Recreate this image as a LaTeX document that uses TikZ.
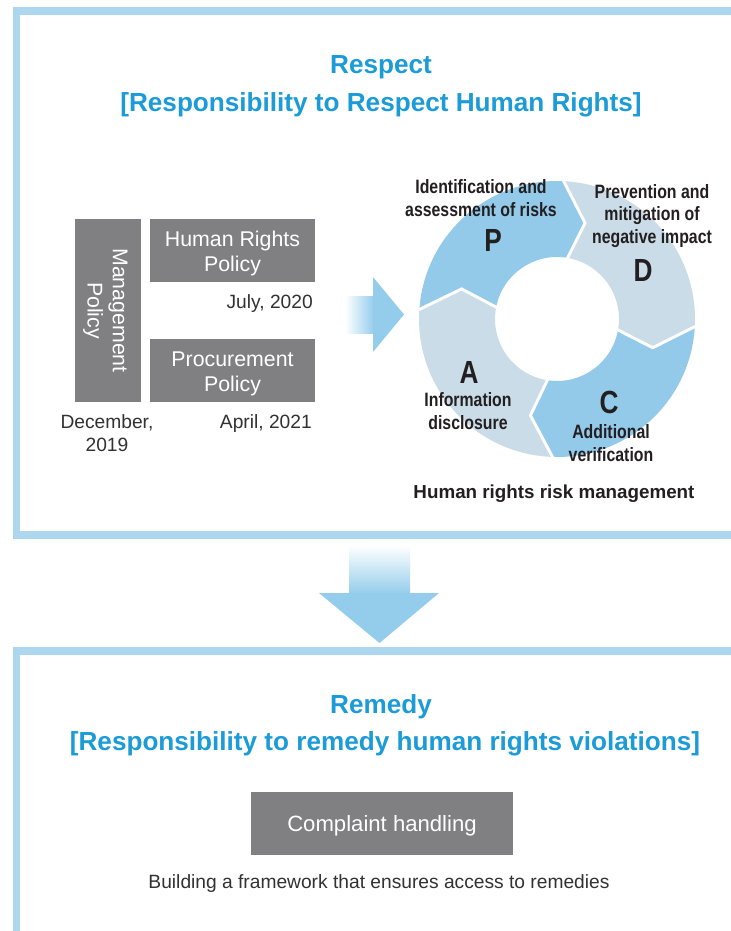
\documentclass[tikz,border=0pt]{standalone}
\usepackage{fontspec}
\setmainfont{Liberation Sans}
\newfontfamily\condfont[FakeStretch=0.82]{Liberation Sans}
\usetikzlibrary{calc}
\definecolor{titleblue}{RGB}{27,155,215}
\definecolor{frameblue}{RGB}{172,215,238}
\definecolor{segblue}{RGB}{147,202,234}
\definecolor{seggray}{RGB}{202,220,231}
\definecolor{boxgray}{RGB}{128,128,131}
\definecolor{arrowblue}{RGB}{148,205,235}
\definecolor{textdark}{RGB}{35,31,32}
\definecolor{textgray}{RGB}{50,50,50}
\begin{document}
\begin{tikzpicture}[x=0.75pt,y=0.75pt,
 frame/.style={draw=frameblue, line width=5.6pt, line join=miter},
 title/.style={text=titleblue, font=\bfseries\fontsize{19.6}{23}\selectfont, inner sep=0},
 graybox/.style={fill=boxgray, inner sep=0},
 boxtext/.style={text=white, font=\fontsize{16}{19}\selectfont, align=center, inner sep=0},
 datelabel/.style={text=textgray, font=\fontsize{14.4}{17.5}\selectfont, inner sep=0, align=center},
 cyclabel/.style={text=textdark, font=\condfont\bfseries\fontsize{14.5}{16.8}\selectfont, align=center, inner sep=0},
 cycletter/.style={text=textdark, font=\condfont\bfseries\fontsize{24}{24}\selectfont, inner sep=0},
 gap/.style={white, line width=2.2pt, line join=miter},
]
\useasboundingbox (0,0) rectangle (731,-931);
\fill[white] (0,0) rectangle (731,-931);

% frames
\draw[frame] (731,-11) -- (16.5,-11) -- (16.5,-535) -- (731,-535);
\draw[frame] (731,-651) -- (16.5,-651) -- (16.5,-931);

% titles
\node[title, anchor=base] (t1) at (381,-74) {Respect};
\node[title, anchor=base] (t2) at (381,-111) {[Responsibility to Respect Human Rights]};
\node[title, anchor=base] (t3) at (381,-713) {Remedy};
\node[title, anchor=base] (t4) at (385,-750) {[Responsibility to remedy human rights violations]};

% policy boxes
\node[graybox, minimum width=49.5pt, minimum height=137.25pt] (mgmt) at (108,-310.5) {};
\node[boxtext, rotate=-90] (mgmtT) at ([xshift=-2pt]mgmt.center) {Management\\Policy};
\node[graybox, minimum width=123.75pt, minimum height=47.25pt] (hrp) at (232.5,-250.5) {};
\node[boxtext] (hrpT) at ([yshift=-2.4pt]hrp.center) {Human Rights\\Policy};
\node[graybox, minimum width=123.75pt, minimum height=47.25pt] (pp) at (232.5,-370.5) {};
\node[boxtext] (ppT) at ([yshift=-2.4pt]pp.center) {Procurement\\Policy};
\node[datelabel, anchor=base east] (d1) at (313,-308.5) {July, 2020};
\node[datelabel, anchor=base east] (d2) at (312,-428.5) {April, 2021};
\node[datelabel] (d3) at (107,-433) {December,\\2019};

% right arrow
\shade[left color=white, right color=arrowblue] (345,-296) rectangle (374,-333);
\fill[arrowblue] (373,-277) -- (404,-314.5) -- (373,-352) -- cycle;

% cycle
\coordinate (cc) at (557,-319);
\foreach \a/\b/\col in {162.5/73.7/segblue, 73.7/-16.7/seggray, -16.7/-105.4/segblue, -105.4/-197.5/seggray}{
 \pgfmathsetmacro\ao{\a+14}
 \pgfmathsetmacro\bo{\b+14}
 \pgfmathsetmacro\ai{\a+7}
 \pgfmathsetmacro\bi{\b+7}
 \fill[\col] ($(cc)+(\ao:138)$) arc[start angle=\ao, end angle=\bo, radius=103.5pt]
   -- ($(cc)+(\b:100)$) -- ($(cc)+(\bi:62)$)
   arc[start angle=\bi, end angle=\ai, radius=46.5pt]
   -- ($(cc)+(\a:100)$) -- cycle;
}
\foreach \a in {162.5,73.7,-16.7,-105.4}{
 \pgfmathsetmacro\ao{\a+14}
 \pgfmathsetmacro\ai{\a+7}
 \draw[gap] ($(cc)+(\ao:140)$) -- ($(cc)+(\a:100)$) -- ($(cc)+(\ai:60)$);
}

\node[cyclabel] (lp) at (481,-198) {Identification and\\assessment of risks};
\node[cycletter] (P) at (493,-240) {P};
\node[cyclabel] (ld) at (652,-216) {Prevention and\\mitigation of\\negative impact};
\node[cycletter] (D) at (643,-270) {D};
\node[cycletter] (C) at (609,-402) {C};
\node[cyclabel] (lc) at (611,-443) {Additional\\verification};
\node[cycletter] (A) at (469,-372) {A};
\node[cyclabel] (la) at (468,-411) {Information\\disclosure};
\node[text=textdark, font=\bfseries\fontsize{14.1}{17}\selectfont, inner sep=0, anchor=base] (hrm) at (554,-498.3) {Human rights risk management};

% down arrow
\shade[top color=white, bottom color=arrowblue] (349,-545) rectangle (410,-594);
\fill[arrowblue] (319,-593) -- (439,-593) -- (379.5,-643) -- cycle;

% remedy
\node[graybox, minimum width=196.5pt, minimum height=47.25pt] (ch) at (382,-823.5) {};
\node[boxtext, font=\fontsize{16.6}{19}\selectfont] (chT) at ([yshift=-2pt]ch.center) {Complaint handling};
\node[datelabel, anchor=base] (bf) at (379,-888) {Building a framework that ensures access to remedies};
\end{tikzpicture}
\end{document}
